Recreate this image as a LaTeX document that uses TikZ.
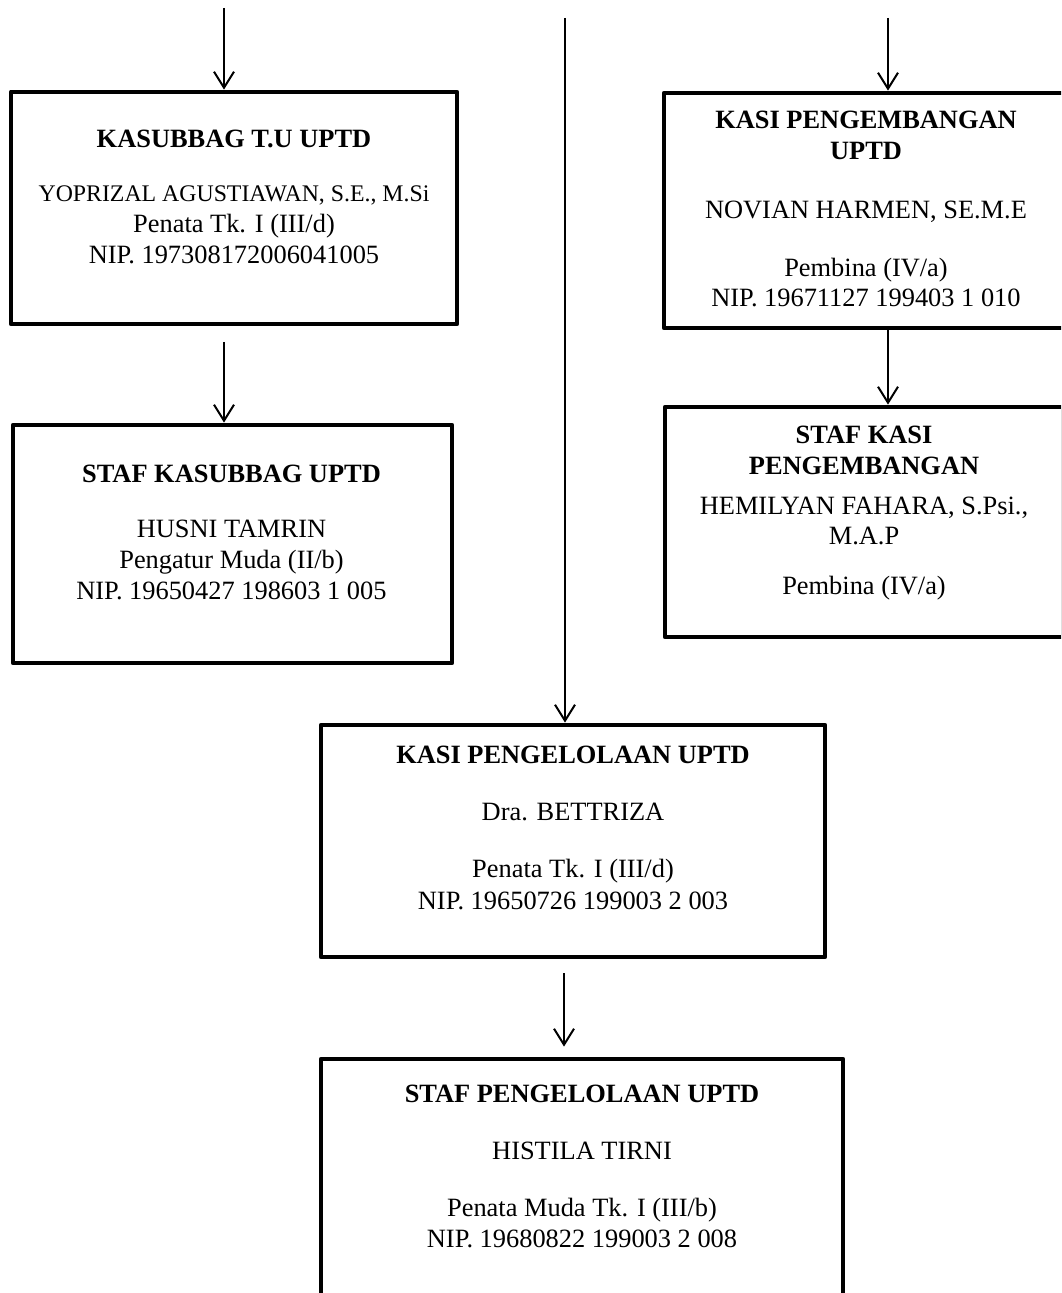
\documentclass[tikz,border=0pt]{standalone}
\usepackage{fontspec}
\setmainfont{Liberation Serif}
\usetikzlibrary{arrows.meta}
\tikzset{box/.style={draw,rectangle,line width=2.4pt,line join=round,inner sep=0pt},
            info/.style={align=center,inner sep=0pt,anchor=north,font=\fontsize{13.2}{15.25}\selectfont},
            }

\begin{document}
\begin{tikzpicture}[x=0.5pt,y=-0.5pt,line width=1pt,>={Straight Barb[length=8pt,width=10pt]}]
					\useasboundingbox (0,0) rectangle (1061,1293);
					\clip (0,0) rectangle (1061,1293);
					% boxes
					\node[box,minimum width=223pt,minimum height=116pt] (kasubbag) at (234,208) {};
					\node[box,minimum width=219.5pt,minimum height=119pt] (stafkasubbag) at (232.5,544) {};
					\node[box,minimum width=202pt,minimum height=117.5pt] (kasibang) at (866,210.5) {};
					\node[box,minimum width=199pt,minimum height=115pt] (stafbang) at (864,522) {};
					\node[box,minimum width=252pt,minimum height=116pt] (kasikelola) at (573,841) {};
					\node[box,minimum width=261pt,minimum height=130pt] (stafkelola) at (582,1189) {};

					% texts
					\node[info] (kasubbagT) at (234,129.5) {\textbf{KASUBBAG T.U UPTD}\\[11.75pt]
						{\fontsize{11.9}{15.25}\selectfont YOPRIZAL AGUSTIAWAN, S.E., M.Si}\\[0.25pt]
						Penata Tk. I (III/d)\\
						NIP. 197308172006041005};
					\node[info] (stafkasubbagT) at (231.5,464.5) {\textbf{STAF KASUBBAG UPTD}\\[12.25pt]
						HUSNI TAMRIN\\[0.25pt]
						Pengatur Muda (II/b)\\
						NIP. 19650427 198603 1 005};
					\node[info] (kasibangT) at (866,110.5) {\textbf{KASI PENGEMBANGAN}\\
						\textbf{UPTD}\\[14.25pt]
						NOVIAN HARMEN, SE.M.E\\[13.75pt]
						Pembina (IV/a)\\
						NIP. 19671127 199403 1 010};
					\node[info] (stafbangT) at (864,425.5) {\textbf{STAF KASI}\\
						\textbf{PENGEMBANGAN}\\[4.75pt]
						HEMILYAN FAHARA, S.Psi.,\\
						M.A.P\\[9.75pt]
						Pembina (IV/a)};
					\node[info] (kasikelolaT) at (573,745.5) {\textbf{KASI PENGELOLAAN UPTD}\\[13.25pt]
						Dra. BETTRIZA\\[13.25pt]
						Penata Tk. I (III/d)\\[0.5pt]
						NIP. 19650726 199003 2 003};
					\node[info] (stafkelolaT) at (582,1084.5) {\textbf{STAF PENGELOLAAN UPTD}\\[13.25pt]
						HISTILA TIRNI\\[13.25pt]
						Penata Muda Tk. I (III/b)\\
						NIP. 19680822 199003 2 008};

					% arrows
					\coordinate (K1) at (224,8);
					\coordinate (K2) at (224,342);
					\coordinate (P1) at (565,18);
					\coordinate (P2) at (564,973);
					\coordinate (B1) at (888,18);

					\draw[->] (K1) to (K1 |- kasubbag.north);
					\draw[->] (K2) to (K2 |- stafkasubbag.north);
					\draw[->] (P1) to (P1 |- kasikelola.north);
					\draw[->,shorten >=5pt] (P2) to (P2 |- stafkelola.north);
					\draw[->] (B1) to (B1 |- kasibang.north);
					\draw[->] (B1 |- kasibang.south) to (B1 |- stafbang.north);
				\end{tikzpicture}
\end{document}
